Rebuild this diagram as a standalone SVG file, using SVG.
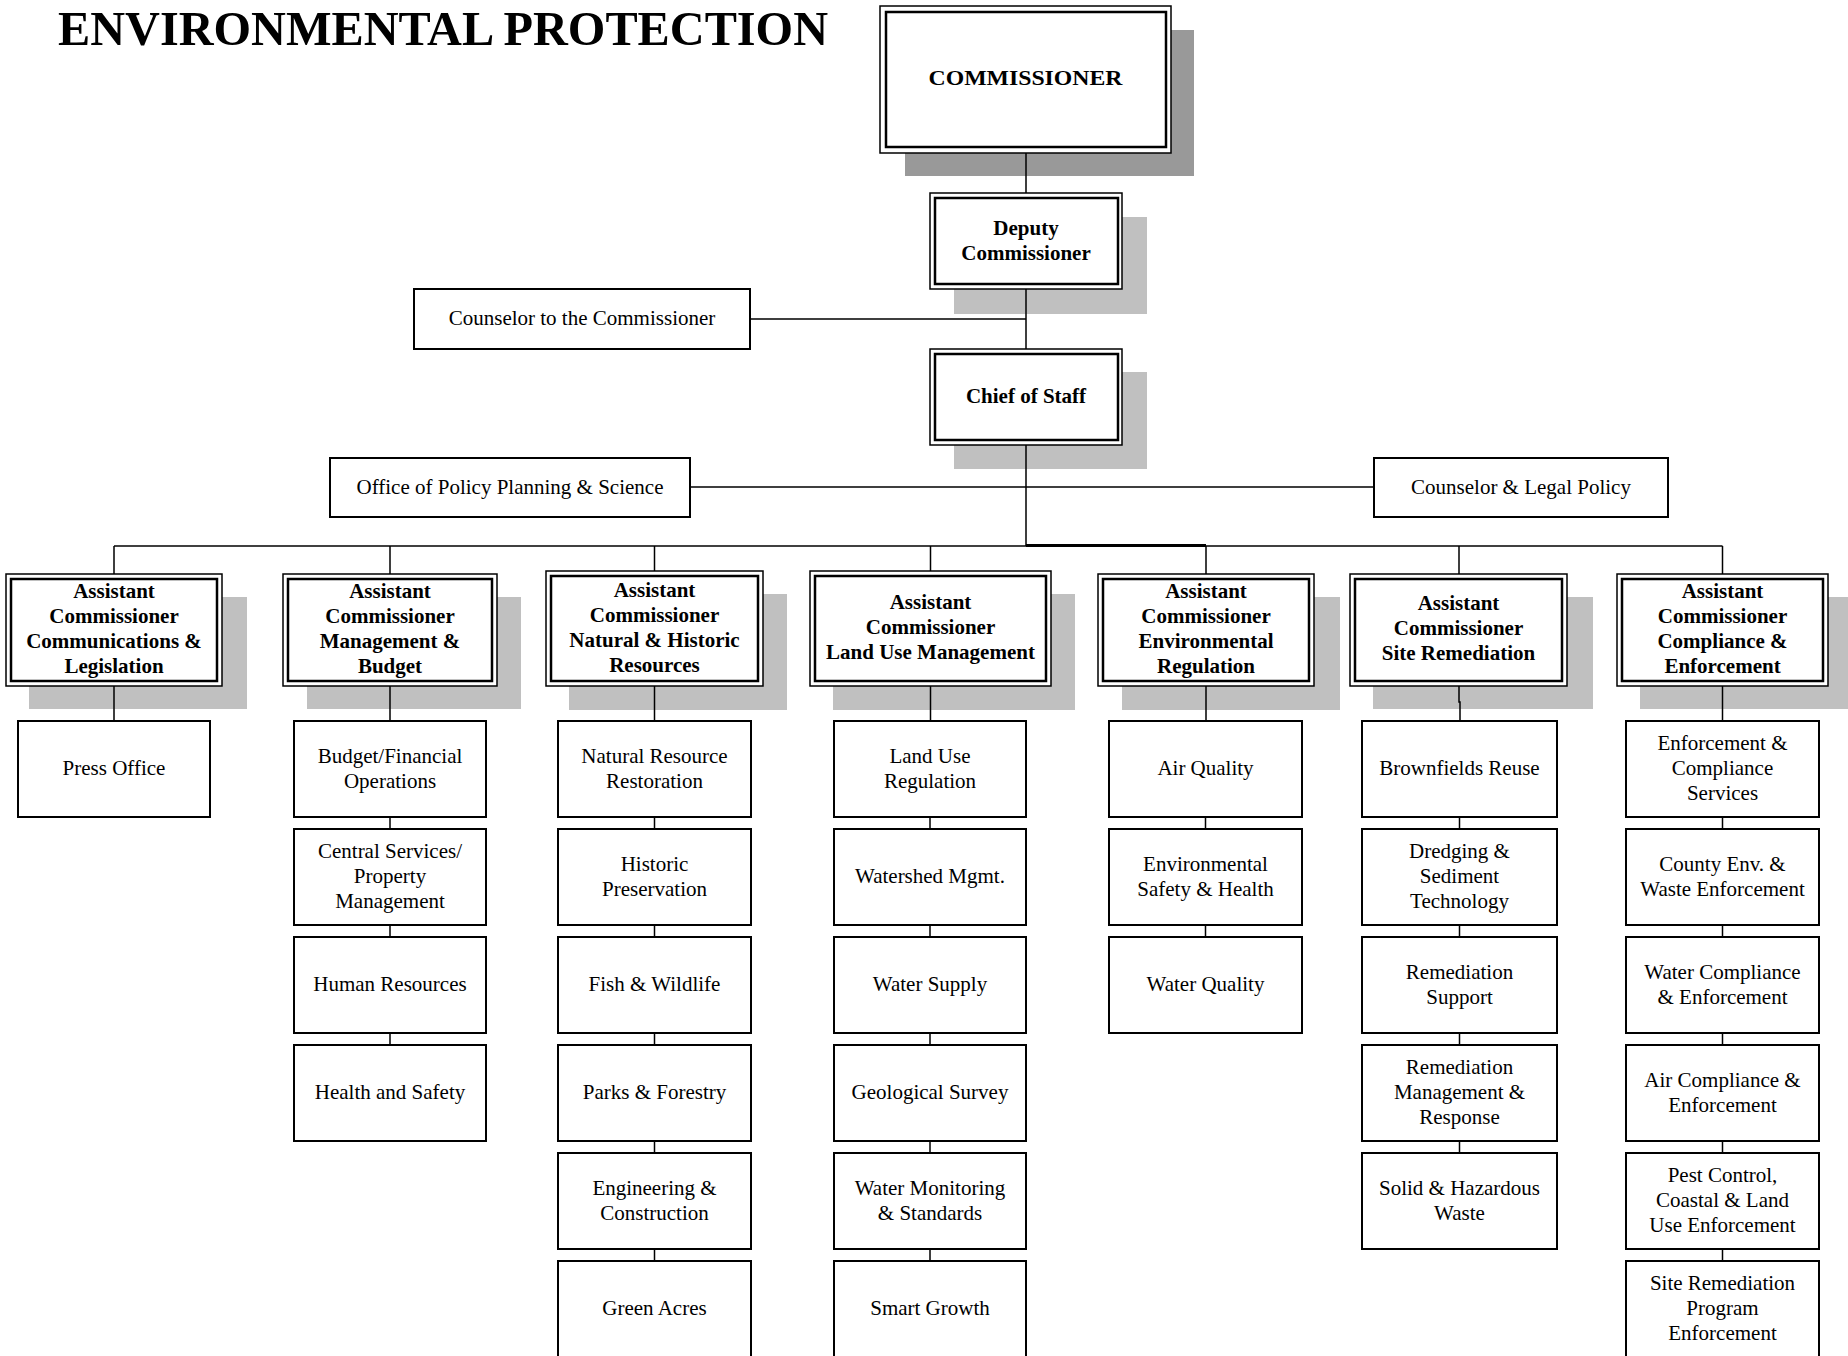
<svg xmlns="http://www.w3.org/2000/svg" width="1848" height="1356" viewBox="0 0 1848 1356">
<style>
.sh{fill:#c0c0c0}
.shd{fill:#999999}
.o{fill:#fff;stroke:#000;stroke-width:1.5}
.i{fill:none;stroke:#000;stroke-width:2.5}
.b{fill:#fff;stroke:#000;stroke-width:2}
.t{font-family:"Liberation Serif","Times New Roman",serif;font-size:21px;text-anchor:middle;fill:#000}
.tb{font-weight:bold}
.c{stroke:#000;stroke-width:1.5;fill:none}
</style>
<rect width="1848" height="1356" fill="#fff"/>
<text id="title" x="58" y="45" font-family="Liberation Serif, Times New Roman, serif" font-size="48" font-weight="bold" textLength="770" lengthAdjust="spacingAndGlyphs">ENVIRONMENTAL PROTECTION</text>

<g id="commissioner">
<rect class="shd" x="905" y="30" width="289" height="146"/>
<rect class="o" x="880" y="6" width="291" height="147"/>
<rect class="i" x="886" y="12" width="280" height="135"/>
<text class="t tb" x="1025.5" y="85" font-size="22" textLength="194" lengthAdjust="spacingAndGlyphs">COMMISSIONER</text>
</g>
<g id="deputy">
<rect class="sh" x="954" y="217" width="193" height="97"/>
<rect class="o" x="930" y="193" width="192" height="96"/>
<rect class="i" x="935" y="198" width="183" height="86"/>
<text class="t tb" x="1026" y="235">Deputy</text>
<text class="t tb" x="1026" y="260">Commissioner</text>
</g>
<g id="counselor-commissioner">
<rect class="b" x="414" y="289" width="336" height="60"/>
<text class="t" x="582" y="325">Counselor to the Commissioner</text>
</g>
<g id="chief">
<rect class="sh" x="954" y="372" width="193" height="97"/>
<rect class="o" x="930" y="349" width="192" height="96"/>
<rect class="i" x="935" y="354" width="183" height="86"/>
<text class="t tb" x="1026" y="403">Chief of Staff</text>
</g>
<g id="policy">
<rect class="b" x="330" y="458" width="360" height="59"/>
<text class="t" x="510" y="494">Office of Policy Planning &amp; Science</text>
</g>
<g id="legal">
<rect class="b" x="1374" y="458" width="294" height="59"/>
<text class="t" x="1521" y="494">Counselor &amp; Legal Policy</text>
</g>

<!-- Assistant commissioners -->
<g id="ac1">
<rect class="sh" x="29" y="597" width="218" height="112"/>
<rect class="o" x="6" y="574" width="216" height="112"/>
<rect class="i" x="11" y="579" width="206" height="102"/>
<text class="t tb" x="114" y="598">Assistant</text>
<text class="t tb" x="114" y="623">Commissioner</text>
<text class="t tb" x="114" y="648">Communications &amp;</text>
<text class="t tb" x="114" y="673">Legislation</text>
</g>
<g id="ac2">
<rect class="sh" x="307" y="597" width="214" height="112"/>
<rect class="o" x="283" y="574" width="214" height="112"/>
<rect class="i" x="288" y="579" width="204" height="102"/>
<text class="t tb" x="390" y="598">Assistant</text>
<text class="t tb" x="390" y="623">Commissioner</text>
<text class="t tb" x="390" y="648">Management &amp;</text>
<text class="t tb" x="390" y="673">Budget</text>
</g>
<g id="ac3">
<rect class="sh" x="569" y="594" width="218" height="116"/>
<rect class="o" x="546" y="571" width="217" height="115"/>
<rect class="i" x="551" y="576" width="207" height="105"/>
<text class="t tb" x="654.5" y="597">Assistant</text>
<text class="t tb" x="654.5" y="622">Commissioner</text>
<text class="t tb" x="654.5" y="647">Natural &amp; Historic</text>
<text class="t tb" x="654.5" y="672">Resources</text>
</g>
<g id="ac4">
<rect class="sh" x="833" y="594" width="242" height="116"/>
<rect class="o" x="810" y="571" width="241" height="115"/>
<rect class="i" x="815" y="576" width="231" height="105"/>
<text class="t tb" x="930.5" y="609">Assistant</text>
<text class="t tb" x="930.5" y="634">Commissioner</text>
<text class="t tb" x="930.5" y="659">Land Use Management</text>
</g>
<g id="ac5">
<rect class="sh" x="1122" y="597" width="218" height="113"/>
<rect class="o" x="1098" y="574" width="216" height="112"/>
<rect class="i" x="1103" y="579" width="206" height="102"/>
<text class="t tb" x="1206" y="598">Assistant</text>
<text class="t tb" x="1206" y="623">Commissioner</text>
<text class="t tb" x="1206" y="648">Environmental</text>
<text class="t tb" x="1206" y="673">Regulation</text>
</g>
<g id="ac6">
<rect class="sh" x="1373" y="597" width="220" height="112"/>
<rect class="o" x="1350" y="574" width="217" height="112"/>
<rect class="i" x="1355" y="579" width="207" height="102"/>
<text class="t tb" x="1458.5" y="610">Assistant</text>
<text class="t tb" x="1458.5" y="635">Commissioner</text>
<text class="t tb" x="1458.5" y="660">Site Remediation</text>
</g>
<g id="ac7">
<rect class="sh" x="1640" y="597" width="211" height="112"/>
<rect class="o" x="1617" y="574" width="211" height="112"/>
<rect class="i" x="1622" y="579" width="201" height="102"/>
<text class="t tb" x="1722.5" y="598">Assistant</text>
<text class="t tb" x="1722.5" y="623">Commissioner</text>
<text class="t tb" x="1722.5" y="648">Compliance &amp;</text>
<text class="t tb" x="1722.5" y="673">Enforcement</text>
</g>

<!-- Column 1 -->
<g id="press-office"><rect class="b" x="18" y="721" width="192" height="96"/><text class="t" x="114" y="775">Press Office</text></g>

<!-- Column 2 -->
<g id="budget-fin"><rect class="b" x="294" y="721" width="192" height="96"/><text class="t" x="390" y="762.5">Budget/Financial</text><text class="t" x="390" y="787.5">Operations</text></g>
<g id="central-services"><rect class="b" x="294" y="829" width="192" height="96"/><text class="t" x="390" y="858">Central Services/</text><text class="t" x="390" y="883">Property</text><text class="t" x="390" y="908">Management</text></g>
<g id="human-resources"><rect class="b" x="294" y="937" width="192" height="96"/><text class="t" x="390" y="991">Human Resources</text></g>
<g id="health-safety"><rect class="b" x="294" y="1045" width="192" height="96"/><text class="t" x="390" y="1099">Health and Safety</text></g>

<!-- Column 3 -->
<g id="nat-res-rest"><rect class="b" x="558" y="721" width="193" height="96"/><text class="t" x="654.5" y="762.5">Natural Resource</text><text class="t" x="654.5" y="787.5">Restoration</text></g>
<g id="historic"><rect class="b" x="558" y="829" width="193" height="96"/><text class="t" x="654.5" y="870.5">Historic</text><text class="t" x="654.5" y="895.5">Preservation</text></g>
<g id="fish-wildlife"><rect class="b" x="558" y="937" width="193" height="96"/><text class="t" x="654.5" y="991">Fish &amp; Wildlife</text></g>
<g id="parks-forestry"><rect class="b" x="558" y="1045" width="193" height="96"/><text class="t" x="654.5" y="1099">Parks &amp; Forestry</text></g>
<g id="engineering"><rect class="b" x="558" y="1153" width="193" height="96"/><text class="t" x="654.5" y="1194.5">Engineering &amp;</text><text class="t" x="654.5" y="1219.5">Construction</text></g>
<g id="green-acres"><rect class="b" x="558" y="1261" width="193" height="96"/><text class="t" x="654.5" y="1315">Green Acres</text></g>

<!-- Column 4 -->
<g id="land-use-reg"><rect class="b" x="834" y="721" width="192" height="96"/><text class="t" x="930" y="762.5">Land Use</text><text class="t" x="930" y="787.5">Regulation</text></g>
<g id="watershed"><rect class="b" x="834" y="829" width="192" height="96"/><text class="t" x="930" y="883">Watershed Mgmt.</text></g>
<g id="water-supply"><rect class="b" x="834" y="937" width="192" height="96"/><text class="t" x="930" y="991">Water Supply</text></g>
<g id="geological"><rect class="b" x="834" y="1045" width="192" height="96"/><text class="t" x="930" y="1099">Geological Survey</text></g>
<g id="water-monitoring"><rect class="b" x="834" y="1153" width="192" height="96"/><text class="t" x="930" y="1194.5">Water Monitoring</text><text class="t" x="930" y="1219.5">&amp; Standards</text></g>
<g id="smart-growth"><rect class="b" x="834" y="1261" width="192" height="96"/><text class="t" x="930" y="1315">Smart Growth</text></g>

<!-- Column 5 -->
<g id="air-quality"><rect class="b" x="1109" y="721" width="193" height="96"/><text class="t" x="1205.5" y="775">Air Quality</text></g>
<g id="env-safety"><rect class="b" x="1109" y="829" width="193" height="96"/><text class="t" x="1205.5" y="870.5">Environmental</text><text class="t" x="1205.5" y="895.5">Safety &amp; Health</text></g>
<g id="water-quality"><rect class="b" x="1109" y="937" width="193" height="96"/><text class="t" x="1205.5" y="991">Water Quality</text></g>

<!-- Column 6 -->
<g id="brownfields"><rect class="b" x="1362" y="721" width="195" height="96"/><text class="t" x="1459.5" y="775">Brownfields Reuse</text></g>
<g id="dredging"><rect class="b" x="1362" y="829" width="195" height="96"/><text class="t" x="1459.5" y="858">Dredging &amp;</text><text class="t" x="1459.5" y="883">Sediment</text><text class="t" x="1459.5" y="908">Technology</text></g>
<g id="rem-support"><rect class="b" x="1362" y="937" width="195" height="96"/><text class="t" x="1459.5" y="978.5">Remediation</text><text class="t" x="1459.5" y="1003.5">Support</text></g>
<g id="rem-mgmt"><rect class="b" x="1362" y="1045" width="195" height="96"/><text class="t" x="1459.5" y="1074">Remediation</text><text class="t" x="1459.5" y="1099">Management &amp;</text><text class="t" x="1459.5" y="1124">Response</text></g>
<g id="solid-haz"><rect class="b" x="1362" y="1153" width="195" height="96"/><text class="t" x="1459.5" y="1194.5">Solid &amp; Hazardous</text><text class="t" x="1459.5" y="1219.5">Waste</text></g>

<!-- Column 7 -->
<g id="enf-comp"><rect class="b" x="1626" y="721" width="193" height="96"/><text class="t" x="1722.5" y="750">Enforcement &amp;</text><text class="t" x="1722.5" y="775">Compliance</text><text class="t" x="1722.5" y="800">Services</text></g>
<g id="county-env"><rect class="b" x="1626" y="829" width="193" height="96"/><text class="t" x="1722.5" y="870.5">County Env. &amp;</text><text class="t" x="1722.5" y="895.5">Waste Enforcement</text></g>
<g id="water-comp"><rect class="b" x="1626" y="937" width="193" height="96"/><text class="t" x="1722.5" y="978.5">Water Compliance</text><text class="t" x="1722.5" y="1003.5">&amp; Enforcement</text></g>
<g id="air-comp"><rect class="b" x="1626" y="1045" width="193" height="96"/><text class="t" x="1722.5" y="1086.5">Air Compliance &amp;</text><text class="t" x="1722.5" y="1111.5">Enforcement</text></g>
<g id="pest-control"><rect class="b" x="1626" y="1153" width="193" height="96"/><text class="t" x="1722.5" y="1182">Pest Control,</text><text class="t" x="1722.5" y="1207">Coastal &amp; Land</text><text class="t" x="1722.5" y="1232">Use Enforcement</text></g>
<g id="site-rem-enf"><rect class="b" x="1626" y="1261" width="193" height="96"/><text class="t" x="1722.5" y="1290">Site Remediation</text><text class="t" x="1722.5" y="1315">Program</text><text class="t" x="1722.5" y="1340">Enforcement</text></g>

<g id="connectors" class="c">
<path d="M1026 153V193M1026 289V349M750 319H1026M1026 445V546M690 487H1374"/>
<path d="M114 546H1722.5"/>
<path d="M1026 545.5H1206" stroke-width="3"/>
<path d="M114 546V574M390 546V574M654.5 546V571M930.5 546V571M1206 546V574M1459 546V574M1722.5 546V574"/>
<path d="M114 686V721M390 686V721M654.5 686V721M930.5 686V721M1206 686V721M1459 686V702H1460V721M1722.5 686V721"/>
<path d="M390 817V829M390 925V937M390 1033V1045"/>
<path d="M654.5 817V829M654.5 925V937M654.5 1033V1045M654.5 1141V1153M654.5 1249V1261"/>
<path d="M930 817V829M930 925V937M930 1033V1045M930 1141V1153M930 1249V1261"/>
<path d="M1205.5 817V829M1205.5 925V937"/>
<path d="M1459.5 817V829M1459.5 925V937M1459.5 1033V1045M1459.5 1141V1153"/>
<path d="M1722.5 817V829M1722.5 925V937M1722.5 1033V1045M1722.5 1141V1153M1722.5 1249V1261"/>
</g>
</svg>
